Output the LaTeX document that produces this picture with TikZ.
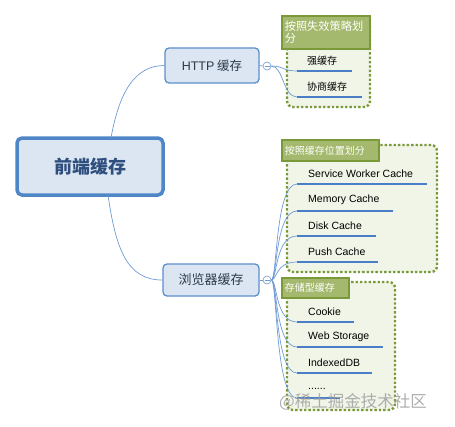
\documentclass[tikz,border=0pt]{standalone}
\usepackage{fontspec}
\setmainfont{Noto Sans CJK SC}
\newfontfamily\latinf{Liberation Sans}
\definecolor{mainfill}{HTML}{DCE6F3}
\definecolor{mainborder}{HTML}{4F86C6}
\definecolor{nodeborder}{HTML}{5B8FCC}
\definecolor{conncol}{HTML}{6F9BD4}
\definecolor{ulcol}{HTML}{4A7EC7}
\definecolor{txtcol}{HTML}{2B3A4A}
\definecolor{maintxt}{HTML}{2E4E7E}
\definecolor{grpborder}{HTML}{7A9A3A}
\definecolor{grpfill}{HTML}{F1F5E8}
\definecolor{titlefill}{HTML}{A4B96D}
\definecolor{wmcol}{HTML}{A0A0A0}
\tikzset{
  mainbox/.style={draw=mainborder, line width=3.5pt, fill=mainfill, rounded corners=5pt, inner sep=0pt, text=maintxt},
  subbox/.style={draw=nodeborder, line width=1.3pt, fill=mainfill, rounded corners=4pt, inner sep=0pt, text=txtcol},
  conn/.style={draw=conncol, line width=0.7pt},
  uline/.style={draw=ulcol, line width=2.6pt},
  collapse/.style={circle, draw=conncol, fill=white, line width=0.6pt, minimum size=8pt, inner sep=0pt},
  grpbox/.style={draw=grpborder, dotted, line width=2.4pt, fill=grpfill, rounded corners=6pt},
  titlebox/.style={draw=grpborder, line width=1.6pt, fill=titlefill, text=white, inner xsep=3pt, inner ysep=0pt, anchor=north west, align=left, font=\fontsize{10}{11.5}\selectfont},
  item/.style={anchor=west, inner sep=0pt, text=black, font=\latinf\fontsize{10.5}{12}\selectfont},
  citem/.style={anchor=west, inner sep=0pt, text=black, font=\fontsize{10}{12}\selectfont},
}
\begin{document}
\begin{tikzpicture}[x=1pt, y=-1pt]
\useasboundingbox (0,0) rectangle (455,426);
% group boxes
\draw[grpbox] (287,20) rectangle (370,107);
\draw[grpbox] (287,145) rectangle (437,272);
\draw[grpbox] (287,282) rectangle (395,410);
\node[titlebox, minimum height=33pt, text width=82pt, font=\fontsize{11.2}{12.5}\selectfont] (t1) at (281,15) {按照失效策略划\\分};
\node[titlebox, minimum height=21pt, text width=91pt] (t2) at (281,139) {按照缓存位置划分};
\node[titlebox, minimum height=20pt, text width=61pt] (t3) at (281,277) {存储型缓存};
% main nodes
\node[mainbox, minimum width=146pt, minimum height=57pt, font=\bfseries\fontsize{18}{20}\selectfont] (main) at (90,166.5) {前端缓存};
\node[subbox, minimum width=94pt, minimum height=35pt, font=\fontsize{12.5}{14}\selectfont] (http) at (212,65.5) {{\latinf HTTP} 缓存};
\node[subbox, minimum width=96pt, minimum height=32pt, font=\fontsize{13}{14}\selectfont] (browser) at (211,280) {浏览器缓存};
\coordinate (mtop) at (111,138);
\coordinate (mbot) at (108,195);
\draw[conn] (mtop) .. controls +(8,-45) and +(-30,0) .. (http.west);
\draw[conn] (mbot) .. controls +(8,55) and +(-35,0) .. (browser.west);
% collapse circles
\node[collapse] (ch) at (267,66) {};
\node[collapse] (cb) at (267,280) {};
\draw[conn] (http.east) -- (ch.west);
\draw[conn] (browser.east) -- (cb.west);
\draw[conncol, line width=0.6pt] (264.5,66) -- (269.5,66);
\draw[conncol, line width=0.6pt] (264.5,280) -- (269.5,280);
% HTTP items
\coordinate (a1s) at (297,71); \coordinate (a1e) at (352,71);
\coordinate (a2s) at (297,97); \coordinate (a2e) at (362,97);
\node[citem] (a1) at (307,61) {强缓存};
\node[citem] (a2) at (307,87) {协商缓存};
\draw[conn] (ch.east) .. controls +(12,0) and +(-14,0) .. (a1s);
\draw[conn] (ch.east) .. controls +(12,0) and +(-14,0) .. (a2s);
\draw[uline] (a1s) -- (a1e);
\draw[uline] (a2s) -- (a2e);
% browser group 1
\coordinate (b1s) at (297,184); \coordinate (b1e) at (427,184);
\coordinate (b2s) at (297,211); \coordinate (b2e) at (393,211);
\coordinate (b3s) at (297,236); \coordinate (b3e) at (376,236);
\coordinate (b4s) at (297,262); \coordinate (b4e) at (378,262);
\node[item] (b1) at (308,174) {Service Worker Cache};
\node[item] (b2) at (308,200) {Memory Cache};
\node[item] (b3) at (308,226) {Disk Cache};
\node[item] (b4) at (308,252) {Push Cache};
% browser group 2
\coordinate (c1s) at (297,322); \coordinate (c1e) at (354,322);
\coordinate (c2s) at (297,347); \coordinate (c2e) at (383,347);
\coordinate (c3s) at (297,373); \coordinate (c3e) at (372,373);
\coordinate (c4s) at (297,398); \coordinate (c4e) at (340,398);
\node[item] (c1) at (308,312) {Cookie};
\node[item] (c2) at (308,337) {Web Storage};
\node[item] (c3) at (308,363) {IndexedDB};
\node[item] (c4) at (308,389) {......};
\foreach \n in {b1s,b2s,b3s,b4s,c1s,c2s,c3s,c4s}{
  \draw[conn] (cb.east) .. controls +(6,0) and +(-22,0) .. (\n);
}
\draw[uline] (b1s) -- (b1e);
\draw[uline] (b2s) -- (b2e);
\draw[uline] (b3s) -- (b3e);
\draw[uline] (b4s) -- (b4e);
\draw[uline] (c1s) -- (c1e);
\draw[uline] (c2s) -- (c2e);
\draw[uline] (c3s) -- (c3e);
\draw[uline] (c4s) -- (c4e);
% watermark
\node[anchor=west, inner sep=0pt, text=wmcol, opacity=0.85, font=\fontsize{16.5}{18}\selectfont] (wm) at (279,402) {@稀土掘金技术社区};
\end{tikzpicture}
\end{document}
